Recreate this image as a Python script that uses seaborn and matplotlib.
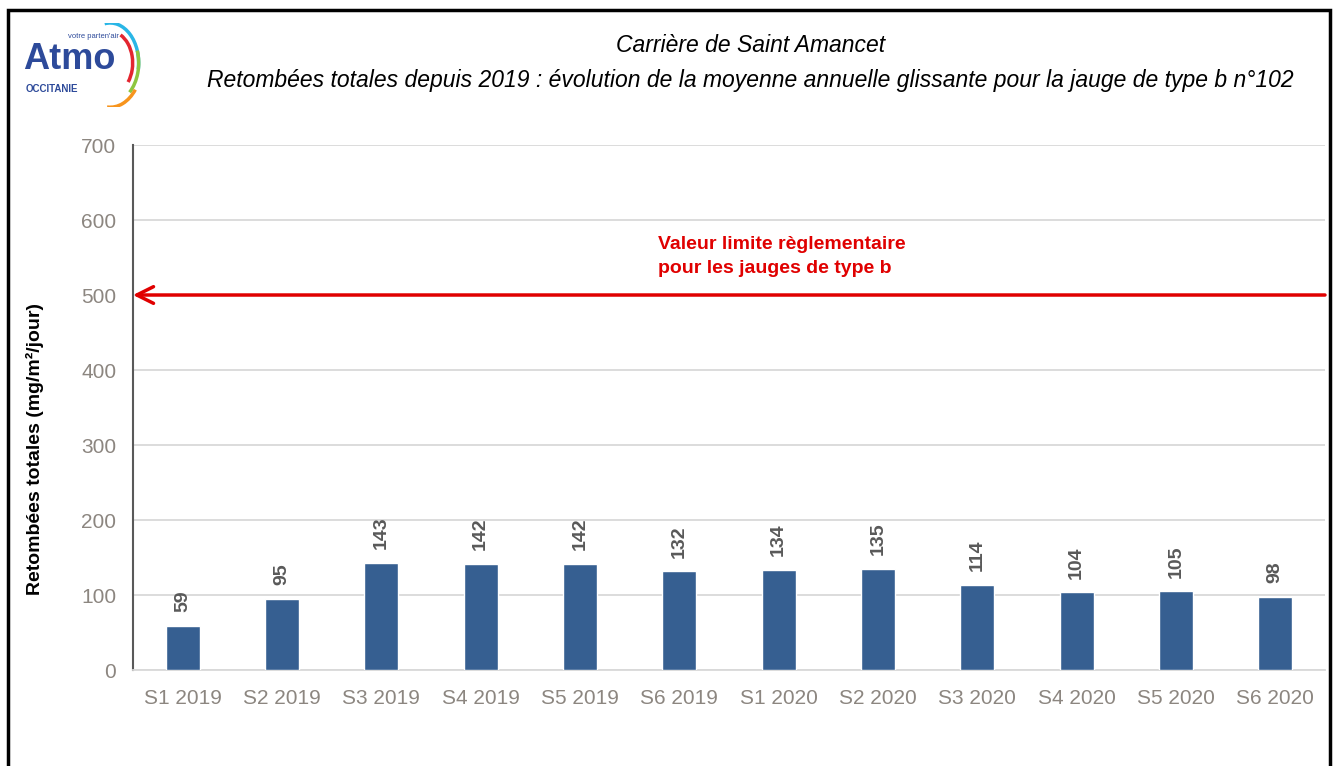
import matplotlib

matplotlib.use("Agg")

import matplotlib.pyplot as plt
import seaborn as sns
import pandas as pd
from matplotlib.patches import Rectangle, Arc

periods = ["S1 2019", "S2 2019", "S3 2019", "S4 2019", "S5 2019", "S6 2019",
           "S1 2020", "S2 2020", "S3 2020", "S4 2020", "S5 2020", "S6 2020"]
values = [59, 95, 143, 142, 142, 132, 134, 135, 114, 104, 105, 98]
limit_value = 500
y_ticks = [0, 100, 200, 300, 400, 500, 600, 700]

title_lines = ["Carrière de Saint Amancet",
               "Retombées totales depuis 2019 : évolution de la moyenne annuelle glissante pour la jauge de type b n°102"]
limit_label = "Valeur limite règlementaire\npour les jauges de type b"
y_label = "Retombées totales (mg/m²/jour)"

df = pd.DataFrame({"period": periods, "value": values})

sns.set_theme(style="white")
plt.rcParams["font.family"] = ["Liberation Sans", "DejaVu Sans"]

fig = plt.figure(figsize=(13.35, 7.66), dpi=100)
ax = fig.add_axes([0.0996, 0.1253, 0.8929, 0.6854])

sns.barplot(data=df, x="period", y="value", color="#365f91", saturation=1,
            width=0.34, ax=ax, zorder=3)

ax.set_ylim(0, 700)
ax.set_xlim(-0.5, len(periods) - 0.5)
ax.set_yticks(y_ticks)
ax.yaxis.grid(True, color="#d9d9d9", linewidth=1.3, zorder=0)
ax.set_axisbelow(True)
for s in ["top", "right"]:
    ax.spines[s].set_visible(False)
ax.spines["left"].set_color("#595959")
ax.spines["left"].set_linewidth(1.5)
ax.spines["bottom"].set_color("#d9d9d9")
ax.spines["bottom"].set_linewidth(1.3)
ax.tick_params(axis="both", length=0, labelsize=15, colors="#8c8680", pad=12)
ax.tick_params(axis="x", pad=14)
ax.set_xlabel("")
ax.set_ylabel("")

for i, v in enumerate(values):
    ax.text(i, v + 18, str(v), rotation=90, ha="center", va="bottom",
            fontsize=14, fontweight="bold", color="#595959")

# limit line with arrow
ax.annotate("", xy=(-0.5, limit_value), xytext=(len(periods) - 0.5, limit_value),
            arrowprops=dict(arrowstyle="->", color="#e00000", lw=2.5,
                            mutation_scale=30, shrinkA=0, shrinkB=0),
            annotation_clip=False, zorder=4)
ax.text(4.79, 579, limit_label, color="#e00000", fontsize=14, fontweight="bold",
        ha="left", va="top", linespacing=1.55)

fig.text(0.026, 0.414, y_label, rotation=90, ha="center", va="center",
         fontsize=14, fontweight="bold", color="black")

fig.text(0.562, 0.941, title_lines[0], ha="center", va="center", fontsize=16.5,
         style="italic", color="black")
fig.text(0.562, 0.895, title_lines[1], ha="center", va="center", fontsize=16.5,
         style="italic", color="black")

# outer frame
fig.patches.append(Rectangle((0.006, -0.01), 0.99, 0.997, transform=fig.transFigure,
                             fill=False, edgecolor="black", linewidth=2.5))

# logo
fig.text(0.017, 0.922, "Atmo", fontsize=26, fontweight="bold", color="#2d4a9a",
         ha="left", va="center")
fig.text(0.019, 0.884, "OCCITANIE", fontsize=7, fontweight="bold", color="#2d4a9a",
         ha="left", va="center")
fig.text(0.051, 0.952, "votre parten'air", fontsize=5.5, color="#2d4a9a",
         ha="left", va="center")
logo = fig.add_axes([0.07, 0.86, 0.05, 0.11])
logo.set_xlim(-1, 1)
logo.set_ylim(-1, 1)
logo.axis("off")
for r, t1, t2, c in [(0.95, -10, 100, "#29b6e6"), (0.75, -40, 65, "#e3262f"),
                     (0.95, -50, 20, "#8dc63f"), (1.05, -95, -40, "#f7941d")]:
    logo.add_patch(Arc((-0.5, 0.05), 2 * r * 0.9, 2 * r, theta1=t1, theta2=t2,
                       color=c, lw=2.5))

fig.savefig("out.png", dpi=100)
